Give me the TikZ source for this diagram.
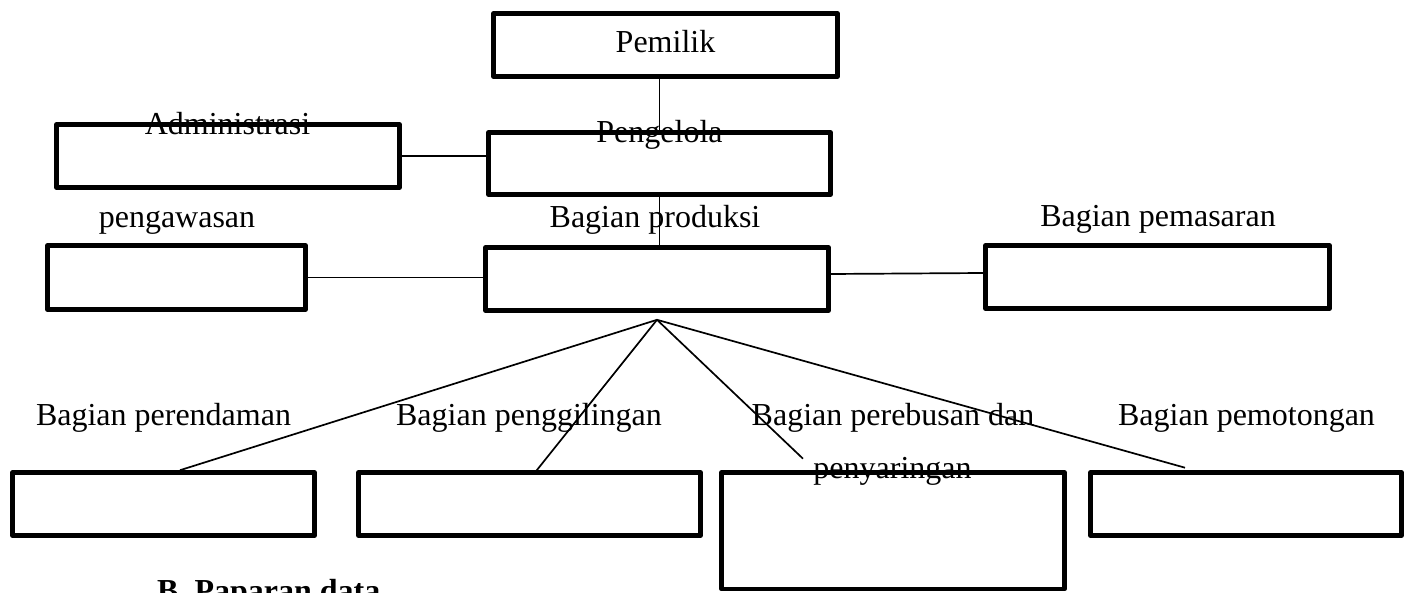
\documentclass[tikz,border=0pt]{standalone}
\usepackage{fontspec}
\setmainfont{Liberation Serif}
\begin{document}
\begin{tikzpicture}[x=1pt,y=-1pt,
  box/.style={draw, line width=4.6pt, line join=round, rectangle, inner sep=0pt},
  lbl/.style={anchor=base, inner sep=0pt, font=\fontsize{32}{38}\selectfont},
  conn/.style={line width=1.7pt}]
\useasboundingbox (0,0) rectangle (1407,593);
\clip (0,0) rectangle (1407,593);
% boxes
\node[box, minimum width=344pt, minimum height=63pt] (pemilik) at (665.5,45) {};
\node[box, minimum width=342pt, minimum height=62pt] (pengelola) at (659.5,163.5) {};
\node[box, minimum width=343pt, minimum height=63pt] (admin) at (228,156) {};
\node[box, minimum width=258pt, minimum height=64pt] (pengawasan) at (176.5,277.5) {};
\node[box, minimum width=343pt, minimum height=63pt] (produksi) at (657,279) {};
\node[box, minimum width=344pt, minimum height=63pt] (pemasaran) at (1157.5,277) {};
\node[box, minimum width=302pt, minimum height=63pt] (perendaman) at (163.5,504) {};
\node[box, minimum width=342pt, minimum height=63pt] (penggilingan) at (529.5,504) {};
\node[box, minimum width=343pt, minimum height=116.5pt] (perebusan) at (893,530.75) {};
\node[box, minimum width=311pt, minimum height=63pt] (pemotongan) at (1246,504) {};
% connectors
\draw[conn] (pemilik.south -| pengelola.north) -- (pengelola.north);
\draw[conn] ([xshift=-3pt]admin.east) -- ([xshift=3pt]admin.east -| pengelola.west);
\draw[conn] (pengelola.south) -- (pengelola.south |- produksi.north);
\draw[conn] (pengawasan.east) -- (pengawasan.east -| produksi.west);
\draw[conn] ([yshift=5pt]produksi.east) -- ([yshift=4pt]pemasaran.west);
\coordinate (apex) at ([yshift=-7pt]produksi.south);
\draw[conn] (apex) -- ([xshift=16.5pt]perendaman.north);
\draw[conn] (apex) -- ([xshift=4.5pt,yshift=-3.5pt]penggilingan.north);
\draw[conn] (apex) -- ([xshift=-90pt,yshift=11.5pt]perebusan.north);
\draw[conn] (apex) -- ([xshift=-61pt,yshift=2.5pt]pemotongan.north);
% labels
\node[lbl] (tpemilik) at (665.5,53) {Pemilik};
\node[lbl] (tadmin) at (227.5,135) {Administrasi};
\node[lbl] (tpengelola) at (659.5,143) {Pengelola};
\node[lbl] (tpengawasan) at (177,228) {pengawasan};
\node[lbl] (tproduksi) at (655,228) {Bagian produksi};
\node[lbl] (tpemasaran) at (1158,227) {Bagian pemasaran};
\node[lbl] (tperendaman) at (163.5,425) {Bagian perendaman};
\node[lbl] (tpenggilingan) at (529,425) {Bagian penggilingan};
\node[lbl] (tperebusan) at (893,425) {Bagian perebusan dan};
\node[lbl] (tpenyaringan) at (892.5,478) {penyaringan};
\node[lbl] (tpemotongan) at (1246.5,425) {Bagian pemotongan};
\node[lbl, anchor=base west, font=\fontsize{32}{38}\selectfont\bfseries] (tpaparan) at (157,601) {B. Paparan data};
\end{tikzpicture}
\end{document}
